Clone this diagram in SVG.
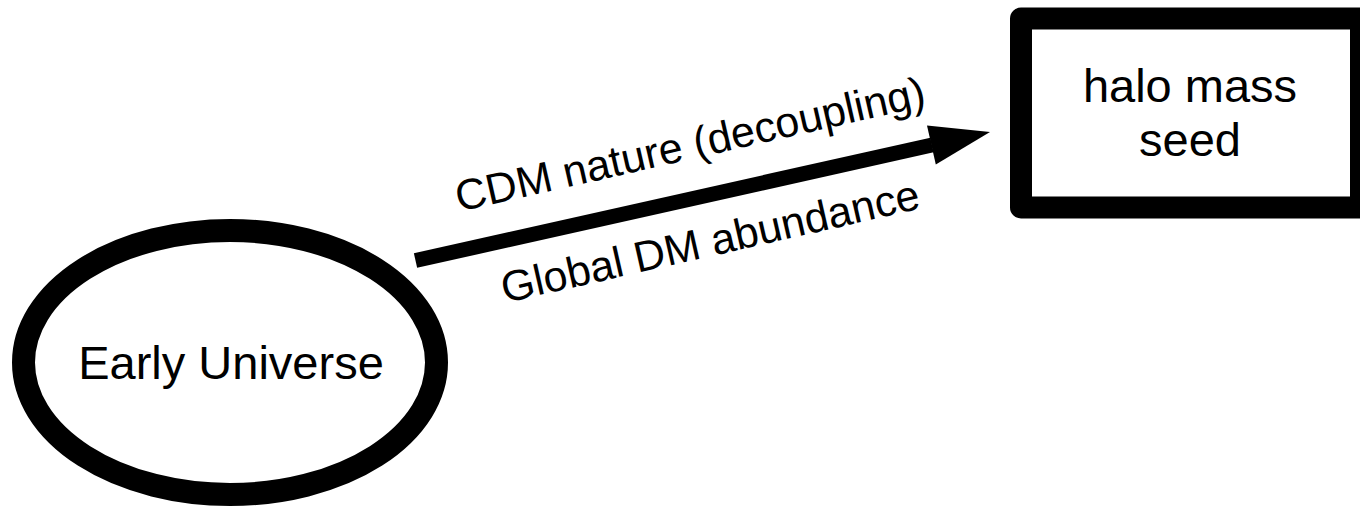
<svg xmlns="http://www.w3.org/2000/svg" width="1360" height="507" viewBox="0 0 1360 507">
<style>
text{font-family:"Liberation Sans",Arial,sans-serif;fill:#000}
.node{font-size:47px;text-anchor:middle}
.lbl{font-size:43px;text-anchor:middle}
.shape{fill:#fff;stroke:#000}
</style>
<rect width="1360" height="507" fill="#fff"/>
<g id="connectors">
<line x1="415.5" y1="260.5" x2="932" y2="145" stroke="#000" stroke-width="15"/>
<polygon points="990,132 927,125.6 935.8,164.6" fill="#000"/>
<text class="lbl" x="690" y="159" transform="rotate(-12.8 690 144)">CDM nature (decoupling)</text>
<text class="lbl" x="710" y="256" transform="rotate(-12.8 710 241)">Global DM abundance</text>
</g>
<g id="early-universe">
<ellipse class="shape" cx="230" cy="362.5" rx="206.5" ry="132" stroke-width="23"/>
<text class="node" x="231" y="379">Early Universe</text>
</g>
<g id="halo-mass-seed">
<rect class="shape" x="1021" y="18.5" width="340" height="189" stroke-width="22" stroke-linejoin="round"/>
<text class="node" x="1190" y="102">halo mass</text>
<text class="node" x="1190" y="156">seed</text>
</g>
</svg>
